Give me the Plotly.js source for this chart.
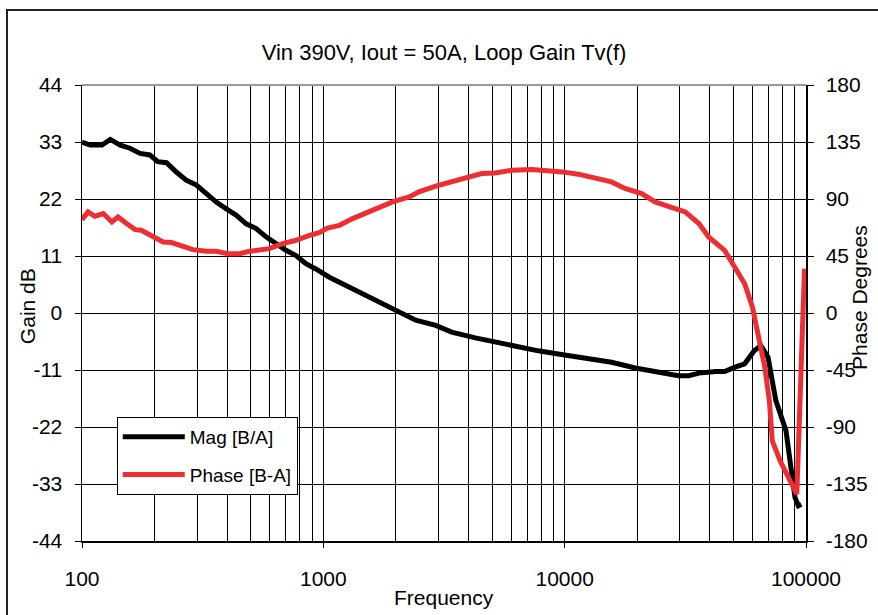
<!DOCTYPE html>
<html>
<head>
<meta charset="utf-8">
<script src="https://cdn.plot.ly/plotly-3.0.1.min.js"></script>
<style>
  html, body { margin: 0; padding: 0; background: #fff; overflow: hidden; }
  #chart { width: 878px; height: 615px; position: absolute; left: 0; top: 0; }
  #frame { position: absolute; left: 6px; top: 9px; width: 900px; height: 700px;
           border-top: 2px solid #222; border-left: 2px solid #222; pointer-events: none; }
</style>
</head>
<body>
<div id="chart"></div>
<div id="frame"></div>
<script>
// Magnitude (Mag [B/A]) in dB
const magFreq = [100,108,121,131,144,158,174,191,206,224,246,271,298,328,360,396,435,479,527,579,637,700,770,847,931,1024,1059,1277,1540,1978,2415,2923,3402,4266,5320,6420,7770,9400,11370,13760,15640,19630,24330,29600,32650,36000,42300,46000,50500,55700,61000,65000,69600,75000,82600,87000,90000,92900,95600];
const magDb = [33.0,32.4,32.4,33.5,32.4,31.8,30.8,30.5,29.2,29.0,27.2,25.6,24.7,23.0,21.4,20.1,18.9,17.2,16.3,14.7,13.4,12.1,11.1,9.5,8.5,7.3,6.9,5.0,3.1,0.5,-1.4,-2.4,-3.7,-4.8,-5.8,-6.6,-7.3,-7.9,-8.5,-9.0,-9.5,-10.6,-11.5,-12.1,-12.1,-11.6,-11.3,-11.3,-10.5,-9.8,-7.3,-6.3,-8.5,-16.9,-22.7,-29.8,-35.6,-37.2,-36.9];

// Phase (Phase [B-A]) in degrees
const phaseFreq = [100,106,113,122.5,133,141,153,166,176,194,217,235,262,288,328,360,402,450,495,544,598,678,770,875,962,1040,1165,1323,1597,1935,2270,2488,2923,3402,3990,4530,5150,6050,7330,8610,9790,11370,13760,15640,17770,20860,23690,27780,31580,36000,39500,46000,50500,55700,60000,64000,67500,70500,72500,78100,85000,91600,98600];
const phaseDeg = [73.7,79.8,76.4,78.5,71.9,75.8,70.6,65.8,65.3,61.3,56.0,55.6,52.1,50.0,48.7,48.7,46.8,46.8,48.7,50.0,50.8,54.8,57.4,61.3,63.5,67.1,69.2,74.5,81.1,87.7,91.6,95.6,100.1,103.5,107.0,110.1,110.6,112.7,113.3,112.7,111.4,109.6,106.2,103.5,98.3,94.3,87.7,83.8,79.8,70.6,60.0,49.5,36.2,23.1,4.6,-19.1,-42.9,-69.2,-100.9,-116.7,-129.9,-143.0,35.0];

const gainTicks = [-44,-33,-22,-11,0,11,22,33,44];
const phaseTicks = [-180,-135,-90,-45,0,45,90,135,180];
const freqTicks = [100,1000,10000,100000];

const FONT = 'Liberation Sans, Arial, sans-serif';

const traces = [
  { x: magFreq, y: magDb, type: 'scatter', mode: 'lines', name: 'Mag [B/A]',
    line: { color: '#000000', width: 5 }, yaxis: 'y', legendgroup: 'a' },
  { x: phaseFreq, y: phaseDeg, type: 'scatter', mode: 'lines', name: 'Phase [B-A]',
    line: { color: '#ee2e33', width: 5 }, yaxis: 'y2', legendgroup: 'b' }
];

const layout = {
  width: 878, height: 615,
  margin: { l: 82, r: 72, t: 85, b: 74 },
  paper_bgcolor: 'rgba(0,0,0,0)', plot_bgcolor: '#fff',
  font: { family: FONT, size: 21, color: '#000' },
  title: { text: 'Vin 390V, Iout = 50A, Loop Gain Tv(f)', x: 0.5, xref: 'paper', y: 0.928, yref: 'container',
           font: { size: 22, family: FONT, color: '#000' } },
  showlegend: true,
  legend: { x: 0.048, y: 0.272, xanchor: 'left', yanchor: 'top', bgcolor: '#fff',
            bordercolor: '#000', borderwidth: 1, font: { size: 19, family: FONT },
            traceorder: 'grouped', tracegroupgap: 10, itemwidth: 62 },
  xaxis: { type: 'log', range: [2, 5], tickvals: freqTicks, ticktext: freqTicks.map(String),
           showgrid: true, gridcolor: '#000', gridwidth: 1,
           minor: { dtick: 'D1', showgrid: true, gridcolor: '#000', gridwidth: 1, ticks: '' },
           showline: true, linecolor: '#000', linewidth: 1.5,
           ticks: 'outside', ticklen: 5, tickcolor: '#000', ticklabelstandoff: 13,
           zeroline: false, fixedrange: true },
  yaxis: { range: [-44, 44], tickvals: gainTicks, ticktext: gainTicks.map(String),
           showgrid: true, gridcolor: '#000', gridwidth: 1,
           showline: true, linecolor: '#000', linewidth: 1.5,
           ticks: 'outside', ticklen: 6, tickcolor: '#000', ticklabelstandoff: 8,
           zeroline: false, fixedrange: true },
  yaxis2: { range: [-180, 180], tickvals: phaseTicks, ticktext: phaseTicks.map(String),
            overlaying: 'y', side: 'right', showgrid: false,
            showline: true, linecolor: '#000', linewidth: 1.5,
            ticks: 'outside', ticklen: 6, tickcolor: '#000', ticklabelstandoff: 8,
            zeroline: false, fixedrange: true },
  shapes: [
    { type: 'line', xref: 'paper', yref: 'paper', x0: 0, x1: 1, y0: 1, y1: 1,
      line: { color: '#999', width: 2 }, layer: 'above' }
  ],
  annotations: [
    { text: 'Gain dB', xref: 'paper', yref: 'paper', x: -0.076, y: 0.515, textangle: -90,
      showarrow: false, xanchor: 'center', yanchor: 'middle', font: { size: 21, family: FONT } },
    { text: 'Phase Degrees', xref: 'paper', yref: 'paper', x: 1.0746, y: 0.533, textangle: -90,
      showarrow: false, xanchor: 'center', yanchor: 'middle', font: { size: 21, family: FONT } },
    { text: 'Frequency', xref: 'paper', yref: 'paper', x: 0.5, y: -0.123,
      showarrow: false, xanchor: 'center', yanchor: 'middle', font: { size: 21, family: FONT } }
  ]
};

Plotly.newPlot('chart', traces, layout, { displayModeBar: false, staticPlot: true });
</script>
</body>
</html>
